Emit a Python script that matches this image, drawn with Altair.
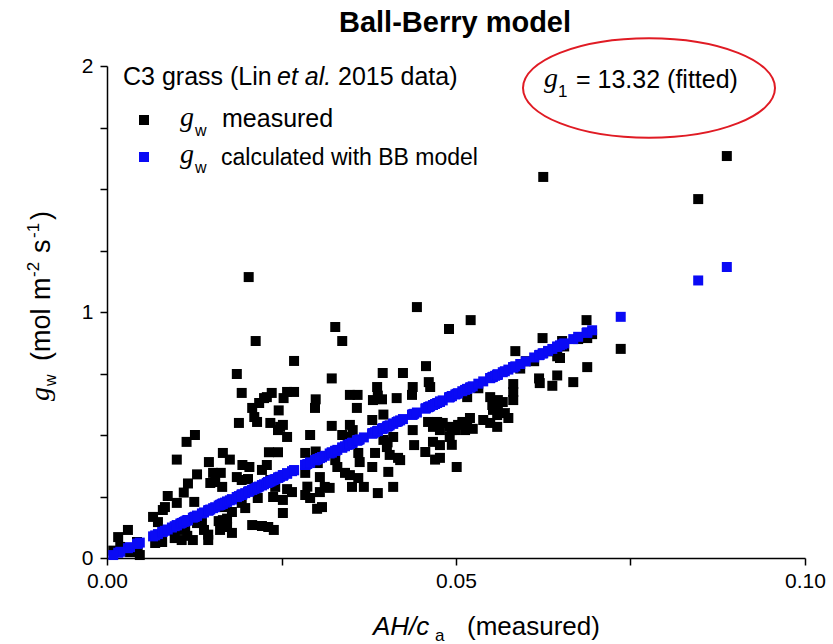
import altair as alt
import pandas as pd

# ---- data ----
G1 = 13.32  # fitted Ball-Berry slope shown in the chart

X_MEAS = [
    0.0016, 0.0030, 0.0019, 0.0033, 0.0044, 0.0047, 0.0043, 0.0009,
    0.0066, 0.0073, 0.0069, 0.0079, 0.0080, 0.0083, 0.0087, 0.0093, 0.0097, 0.0100, 0.0100, 0.0105,
    0.0107, 0.0112, 0.0115, 0.0123, 0.0110, 0.0116, 0.0114, 0.0125, 0.0126, 0.0129,
    0.0136, 0.0129, 0.0139, 0.0145, 0.0145, 0.0146, 0.0152, 0.0155, 0.0148, 0.0163,
    0.0165, 0.0166, 0.0160, 0.0166, 0.0162, 0.0169, 0.0172, 0.0172, 0.0179, 0.0176,
    0.0179, 0.0186, 0.0193, 0.0202, 0.0186, 0.0189, 0.0193, 0.0194, 0.0204, 0.0193,
    0.0198, 0.0203, 0.0208, 0.0208, 0.0211, 0.0213, 0.0215, 0.0216, 0.0218, 0.0222,
    0.0222, 0.0225, 0.0229, 0.0229, 0.0231, 0.0231, 0.0232, 0.0234, 0.0236, 0.0239,
    0.0241, 0.0238, 0.0234, 0.0245, 0.0245, 0.0246, 0.0248, 0.0253, 0.0258, 0.0252,
    0.0252, 0.0252, 0.0258, 0.0258, 0.0265, 0.0268, 0.0268, 0.0284, 0.0284, 0.0284,
    0.0287, 0.0291, 0.0291, 0.0298, 0.0299, 0.0299, 0.0301, 0.0302, 0.0305, 0.0305,
    0.0308, 0.0308, 0.0312, 0.0319, 0.0322, 0.0322, 0.0327, 0.0327, 0.0330, 0.0337,
    0.0337, 0.0341, 0.0345, 0.0348, 0.0348, 0.0348, 0.0351, 0.0352, 0.0358, 0.0359,
    0.0360, 0.0362, 0.0360, 0.0368, 0.0380, 0.0380, 0.0381, 0.0384, 0.0387, 0.0388,
    0.0388, 0.0394, 0.0395, 0.0396, 0.0396, 0.0402, 0.0401, 0.0403, 0.0405, 0.0410,
    0.0410, 0.0415, 0.0417, 0.0420, 0.0424, 0.0437, 0.0438, 0.0438, 0.0440, 0.0444,
    0.0456, 0.0457, 0.0460, 0.0461, 0.0463, 0.0467, 0.0467, 0.0470, 0.0473, 0.0477,
    0.0477, 0.0477, 0.0481, 0.0490, 0.0491, 0.0491, 0.0494, 0.0494, 0.0499, 0.0501,
    0.0503, 0.0509, 0.0513, 0.0516, 0.0516, 0.0520, 0.0521, 0.0524, 0.0532, 0.0539,
    0.0549, 0.0549, 0.0552, 0.0553, 0.0556, 0.0559, 0.0559, 0.0560, 0.0560, 0.0567,
    0.0570, 0.0575, 0.0582, 0.0582, 0.0582, 0.0585, 0.0592, 0.0600, 0.0612, 0.0619,
    0.0620, 0.0624, 0.0625, 0.0632, 0.0638, 0.0645, 0.0649, 0.0645, 0.0652, 0.0655,
    0.0668, 0.0675, 0.0687, 0.0688, 0.0688, 0.0695, 0.0736, 0.0847, 0.0888,
]
Y_MEAS = [
    0.085, 0.114, 0.045, 0.024, 0.033, 0.012, 0.065, 0.030,
    0.167, 0.146, 0.061, 0.065, 0.195, 0.207, 0.252, 0.114, 0.081, 0.224, 0.400, 0.114,
    0.073, 0.122, 0.090, 0.073, 0.266, 0.303, 0.472, 0.228, 0.500, 0.340,
    0.154, 0.142, 0.114, 0.095, 0.073, 0.390, 0.346, 0.309, 0.305, 0.346,
    0.289, 0.427, 0.150, 0.154, 0.114, 0.207, 0.160, 0.126, 0.102, 0.400,
    0.187, 0.329, 0.317, 0.321, 0.748, 0.549, 0.671, 0.378, 0.370, 0.224,
    0.203, 1.142, 0.610, 0.134, 0.573, 0.882, 0.553, 0.244, 0.630, 0.358,
    0.130, 0.650, 0.378, 0.654, 0.309, 0.126, 0.430, 0.549, 0.671, 0.114,
    0.289, 0.248, 0.317, 0.430, 0.520, 0.600, 0.533, 0.650, 0.675, 0.183,
    0.541, 0.236, 0.492, 0.280, 0.268, 0.675, 0.801, 0.427, 0.346, 0.256,
    0.290, 0.500, 0.244, 0.610, 0.645, 0.433, 0.200, 0.386, 0.329, 0.268,
    0.410, 0.207, 0.289, 0.285, 0.730, 0.537, 0.939, 0.398, 0.370, 0.882,
    0.500, 0.346, 0.492, 0.663, 0.541, 0.337, 0.289, 0.520, 0.610, 0.663,
    0.427, 0.390, 0.325, 0.289, 0.370, 0.561, 0.642, 0.427, 0.695, 0.660,
    0.264, 0.645, 0.752, 0.583, 0.480, 0.470, 0.451, 0.350, 0.419, 0.492,
    0.289, 0.650, 0.407, 0.398, 0.752, 0.663, 0.695, 0.520, 0.459, 1.020,
    0.431, 0.780, 0.553, 0.715, 0.695, 0.533, 0.472, 0.400, 0.553, 0.520,
    0.459, 0.407, 0.549, 0.931, 0.533, 0.492, 0.520, 0.460, 0.520, 0.370,
    0.541, 0.553, 0.520, 0.654, 0.549, 0.569, 0.967, 0.525, 0.690, 0.561,
    0.549, 0.654, 0.622, 0.602, 0.630, 0.581, 0.533, 0.642, 0.614, 0.634,
    0.589, 0.569, 0.707, 0.675, 0.642, 0.841, 0.770, 0.800, 0.800, 0.730,
    0.711, 0.894, 1.549, 0.840, 0.700, 0.820, 0.813, 0.742, 0.882, 0.860,
    0.715, 0.890, 0.967, 0.894, 0.776, 0.910, 0.850, 1.459, 1.634,
]

SANS = "Liberation Sans"
SERIF = "Liberation Serif"
BLUE = "#0a0af5"
W, H = 698, 492
MS = 100  # marker area

meas = pd.DataFrame({"x": X_MEAS, "y": Y_MEAS})
model = pd.DataFrame({"x": X_MEAS, "y": [G1 * v for v in X_MEAS]})

xs = alt.Scale(domain=[0, 0.1], nice=False, zero=False)
ys = alt.Scale(domain=[0, 2], nice=False)

x_axis = alt.Axis(
    values=[0, 0.025, 0.05, 0.075, 0.1],
    labelExpr="(format(datum.value, '.3f') == '0.025' || format(datum.value, '.3f') == '0.075') ? '' : format(datum.value, '.2f')",
    title=None, labelFlush=False, labelPadding=5,
)
y_axis = alt.Axis(
    values=[0, 0.25, 0.5, 0.75, 1, 1.25, 1.5, 1.75, 2],
    labelExpr="(datum.value == 0 || datum.value == 1 || datum.value == 2) ? format(datum.value, 'd') : ''",
    title=None, labelFlush=False, labelPadding=7,
)

black = alt.Chart(meas).mark_square(size=MS, color="black", opacity=1).encode(
    x=alt.X("x:Q", scale=xs, axis=x_axis),
    y=alt.Y("y:Q", scale=ys, axis=y_axis),
)
blue = alt.Chart(model).mark_square(size=MS, color=BLUE, opacity=1).encode(
    x=alt.X("x:Q", scale=xs),
    y=alt.Y("y:Q", scale=ys),
)


def label(text, x, y, size, style="normal", weight="normal", align="left", angle=0,
          color="black", font=SANS):
    kw = dict(align=align, baseline="alphabetic", font=font, fontSize=size,
              fontStyle=style, fontWeight=weight, color=color)
    if angle:
        kw["angle"] = angle
    return alt.Chart(pd.DataFrame({"t": [text]})).mark_text(**kw).encode(
        x=alt.value(x), y=alt.value(y), text="t:N"
    )


def square(x, y, color):
    return alt.Chart(pd.DataFrame({"t": [0]})).mark_square(size=MS, color=color, opacity=1).encode(
        x=alt.value(x), y=alt.value(y)
    )


ELLIPSE = "M -1 0 A 1 0.395 0 1 1 1 0 A 1 0.395 0 1 1 -1 0 Z"
ellipse = alt.Chart(pd.DataFrame({"t": [0]})).mark_point(
    shape=ELLIPSE, size=252 * 252, filled=False, color="#e01b24", strokeWidth=2, opacity=1
).encode(x=alt.value(542), y=alt.value(22))

texts = [
    label("Ball-Berry model", 348, -34, 29, weight="bold", align="center"),
    # legend block
    label("C3 grass (Lin", 16, 19, 25),
    label("et al.", 170, 19, 25, style="italic"),
    label("2015 data)", 231, 19, 25),
    label("g", 73, 60, 28, style="italic", font=SERIF),
    label("w", 88, 70, 16),
    label("measured", 115, 61, 25),
    label("g", 73, 97, 28, style="italic", font=SERIF),
    label("w", 88, 107, 16),
    label("calculated with BB model", 114, 99, 23),
    # fitted parameter
    label("g", 437, 21, 28, style="italic", font=SERIF),
    label("1", 451, 31, 17),
    label("= 13.32 (fitted)", 469, 22, 25),
    # x title
    label("AH/c", 266, 569, 26, style="italic"),
    label("a", 328, 575, 17),
    label("(measured)", 360, 569, 26),
    # y title (reads bottom to top)
    label("g", -58, 335, 28, style="italic", font=SERIF, angle=270),
    label("w", -51, 320, 16, angle=270),
    label("(mol", -57, 295, 27, angle=270),
    label("m", -57, 234, 27, angle=270),
    label("-2", -68, 211, 17, angle=270),
    label("s", -57, 187, 27, angle=270),
    label("-1", -68, 172, 17, angle=270),
    label(")", -57, 154, 27, angle=270),
]

chart = alt.layer(
    black, blue, square(37, 54, "black"), square(37, 91, BLUE), ellipse, *texts
).properties(
    width=W, height=H,
    autosize=alt.AutoSizeParams(type="none"),
    padding={"left": 107, "top": 66, "right": 28, "bottom": 86},
).configure_view(strokeWidth=0).configure_axis(
    domainColor="black", domainWidth=1.5, tickColor="black", tickWidth=1.5, tickSize=7,
    labelFont=SANS, labelFontSize=21, labelColor="black", grid=False,
)

chart.save("out.html", embed_options={"renderer": "svg", "actions": False})
